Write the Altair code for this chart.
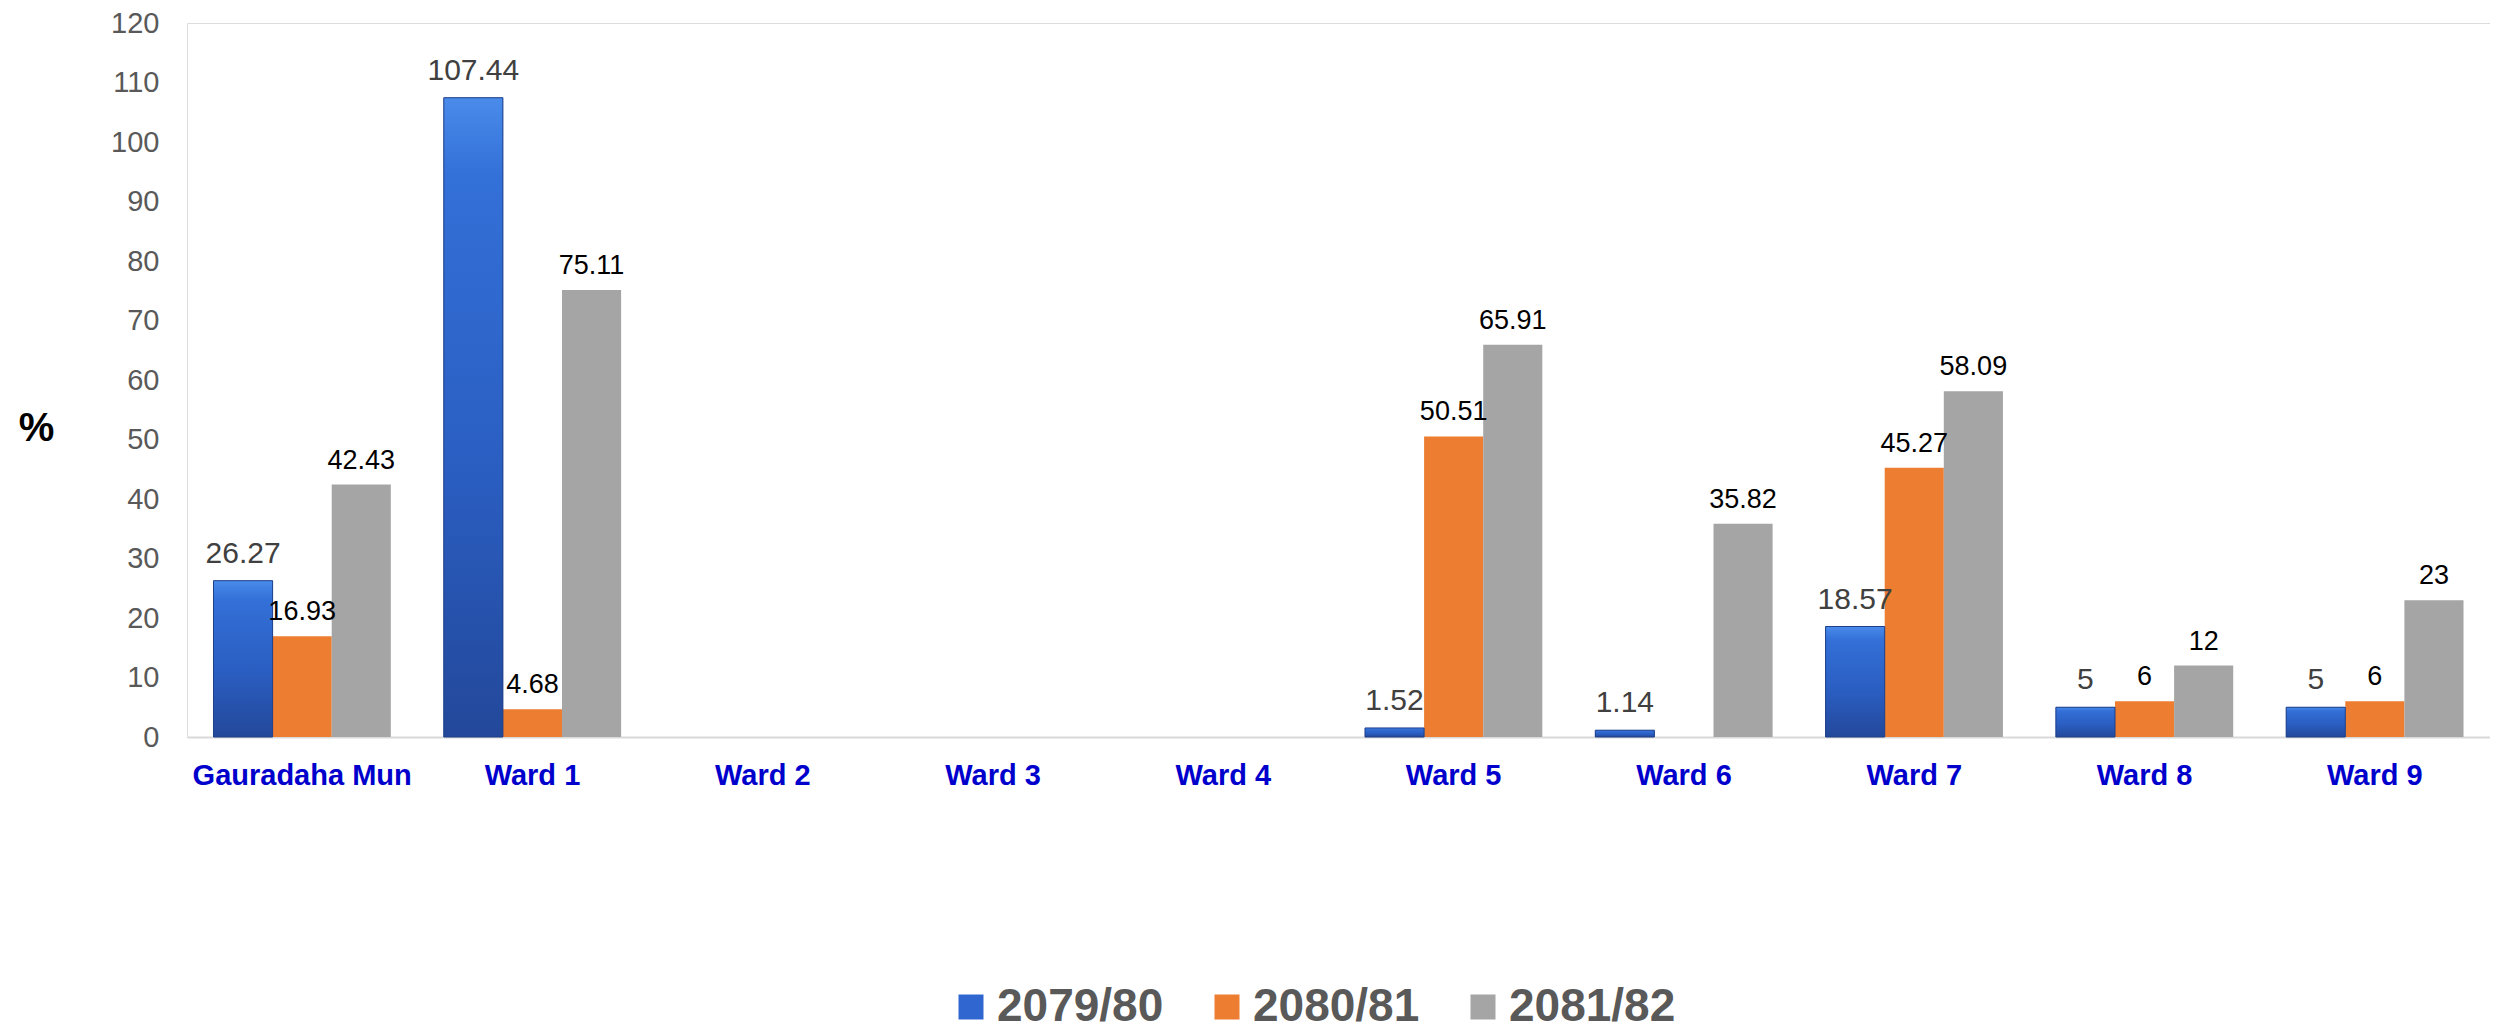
import altair as alt
import pandas as pd

categories = ["Gauradaha Mun", "Ward 1", "Ward 2", "Ward 3", "Ward 4",
              "Ward 5", "Ward 6", "Ward 7", "Ward 8", "Ward 9"]
series = ["2079/80", "2080/81", "2081/82"]
v_2079 = [26.27, 107.44, None, None, None, 1.52, 1.14, 18.57, 5, 5]
v_2080 = [16.93, 4.68, None, None, None, 50.51, None, 45.27, 6, 6]
v_2081 = [42.43, 75.11, None, None, None, 65.91, 35.82, 58.09, 12, 23]
y_ticks = list(range(0, 121, 10))
colors = ["#2F66D0", "#ED7D31", "#A5A5A5"]

rows = []
for s, vals in zip(series, [v_2079, v_2080, v_2081]):
    for c, v in zip(categories, vals):
        if v is not None:
            lab = ("%g" % v)
            rows.append({"cat": c, "series": s, "value": v, "label": lab})
df = pd.DataFrame(rows)

FONT = "Liberation Sans"

x_enc = alt.X("cat:N", sort=categories, title=None,
              scale=alt.Scale(domain=categories, paddingInner=0.23, paddingOuter=0.115),
              axis=alt.Axis(labelAngle=0, labelFont=FONT, labelFontSize=29,
                            labelFontWeight="bold", labelColor="#0000CC",
                            labelPadding=24, labelLimit=500, ticks=False,
                            domainColor="#D9D9D9", domainWidth=2, grid=False))
xo_enc = alt.XOffset("series:N", sort=series, scale=alt.Scale(domain=series))
y_enc = alt.Y("value:Q", scale=alt.Scale(domain=[0, 120], nice=False),
              axis=alt.Axis(values=y_ticks, title="%", titleAngle=0, titleX=-151,
                            titleY=405, titleAlign="center", titleBaseline="middle",
                            titleFont=FONT, titleFontSize=40, titleFontWeight="bold",
                            titleColor="#000000", labelFont=FONT, labelFontSize=29,
                            labelColor="#595959", labelPadding=28, domain=False,
                            ticks=False, grid=False))

base = alt.Chart(df)

bars = base.mark_bar().encode(
    x=x_enc, xOffset=xo_enc, y=y_enc,
    color=alt.Color("series:N", sort=series,
                    scale=alt.Scale(domain=series, range=colors),
                    legend=alt.Legend(title=None, orient="none", direction="horizontal",
                                      legendX=761, legendY=961, padding=0,
                                      symbolType="square", symbolSize=625,
                                      symbolStrokeWidth=0, labelOffset=3,
                                      columnPadding=40, labelFont=FONT,
                                      labelFontSize=46, labelFontWeight="bold",
                                      labelColor="#595959", labelLimit=400)),
)

blue_grad = alt.Gradient(
    gradient="linear",
    stops=[alt.GradientStop(color="#4A8BEA", offset=0),
           alt.GradientStop(color="#3370D8", offset=0.12),
           alt.GradientStop(color="#2A5DC0", offset=0.6),
           alt.GradientStop(color="#23489A", offset=1)],
    x1=0, x2=0, y1=0, y2=1,
)

blue_bars = base.transform_filter(alt.datum.series == "2079/80").mark_bar(
    color=blue_grad, stroke="#1E3F88", strokeWidth=1
).encode(x=x_enc, xOffset=xo_enc, y=y_enc)

labels_blue = base.transform_filter(alt.datum.series == "2079/80").mark_text(
    font=FONT, fontSize=30, color="#404040", baseline="alphabetic", align="center", dy=-18
).encode(x=x_enc, xOffset=xo_enc, y=y_enc, text="label:N")

labels_other = base.transform_filter(alt.datum.series != "2079/80").mark_text(
    font=FONT, fontSize=27, color="#000000",
    baseline="alphabetic", align="center", dy=-16
).encode(x=x_enc, xOffset=xo_enc, y=y_enc, text="label:N")

chart = alt.layer(bars, blue_bars, labels_blue, labels_other).properties(
    width=2303, height=714,
    autosize=alt.AutoSizeParams(type="none"),
    padding={"left": 179, "top": 15, "right": 0, "bottom": 293},
).configure_view(stroke=None).configure(background="#FFFFFF")

chart.save("out.html", embed_options={"renderer": "svg", "actions": False})
